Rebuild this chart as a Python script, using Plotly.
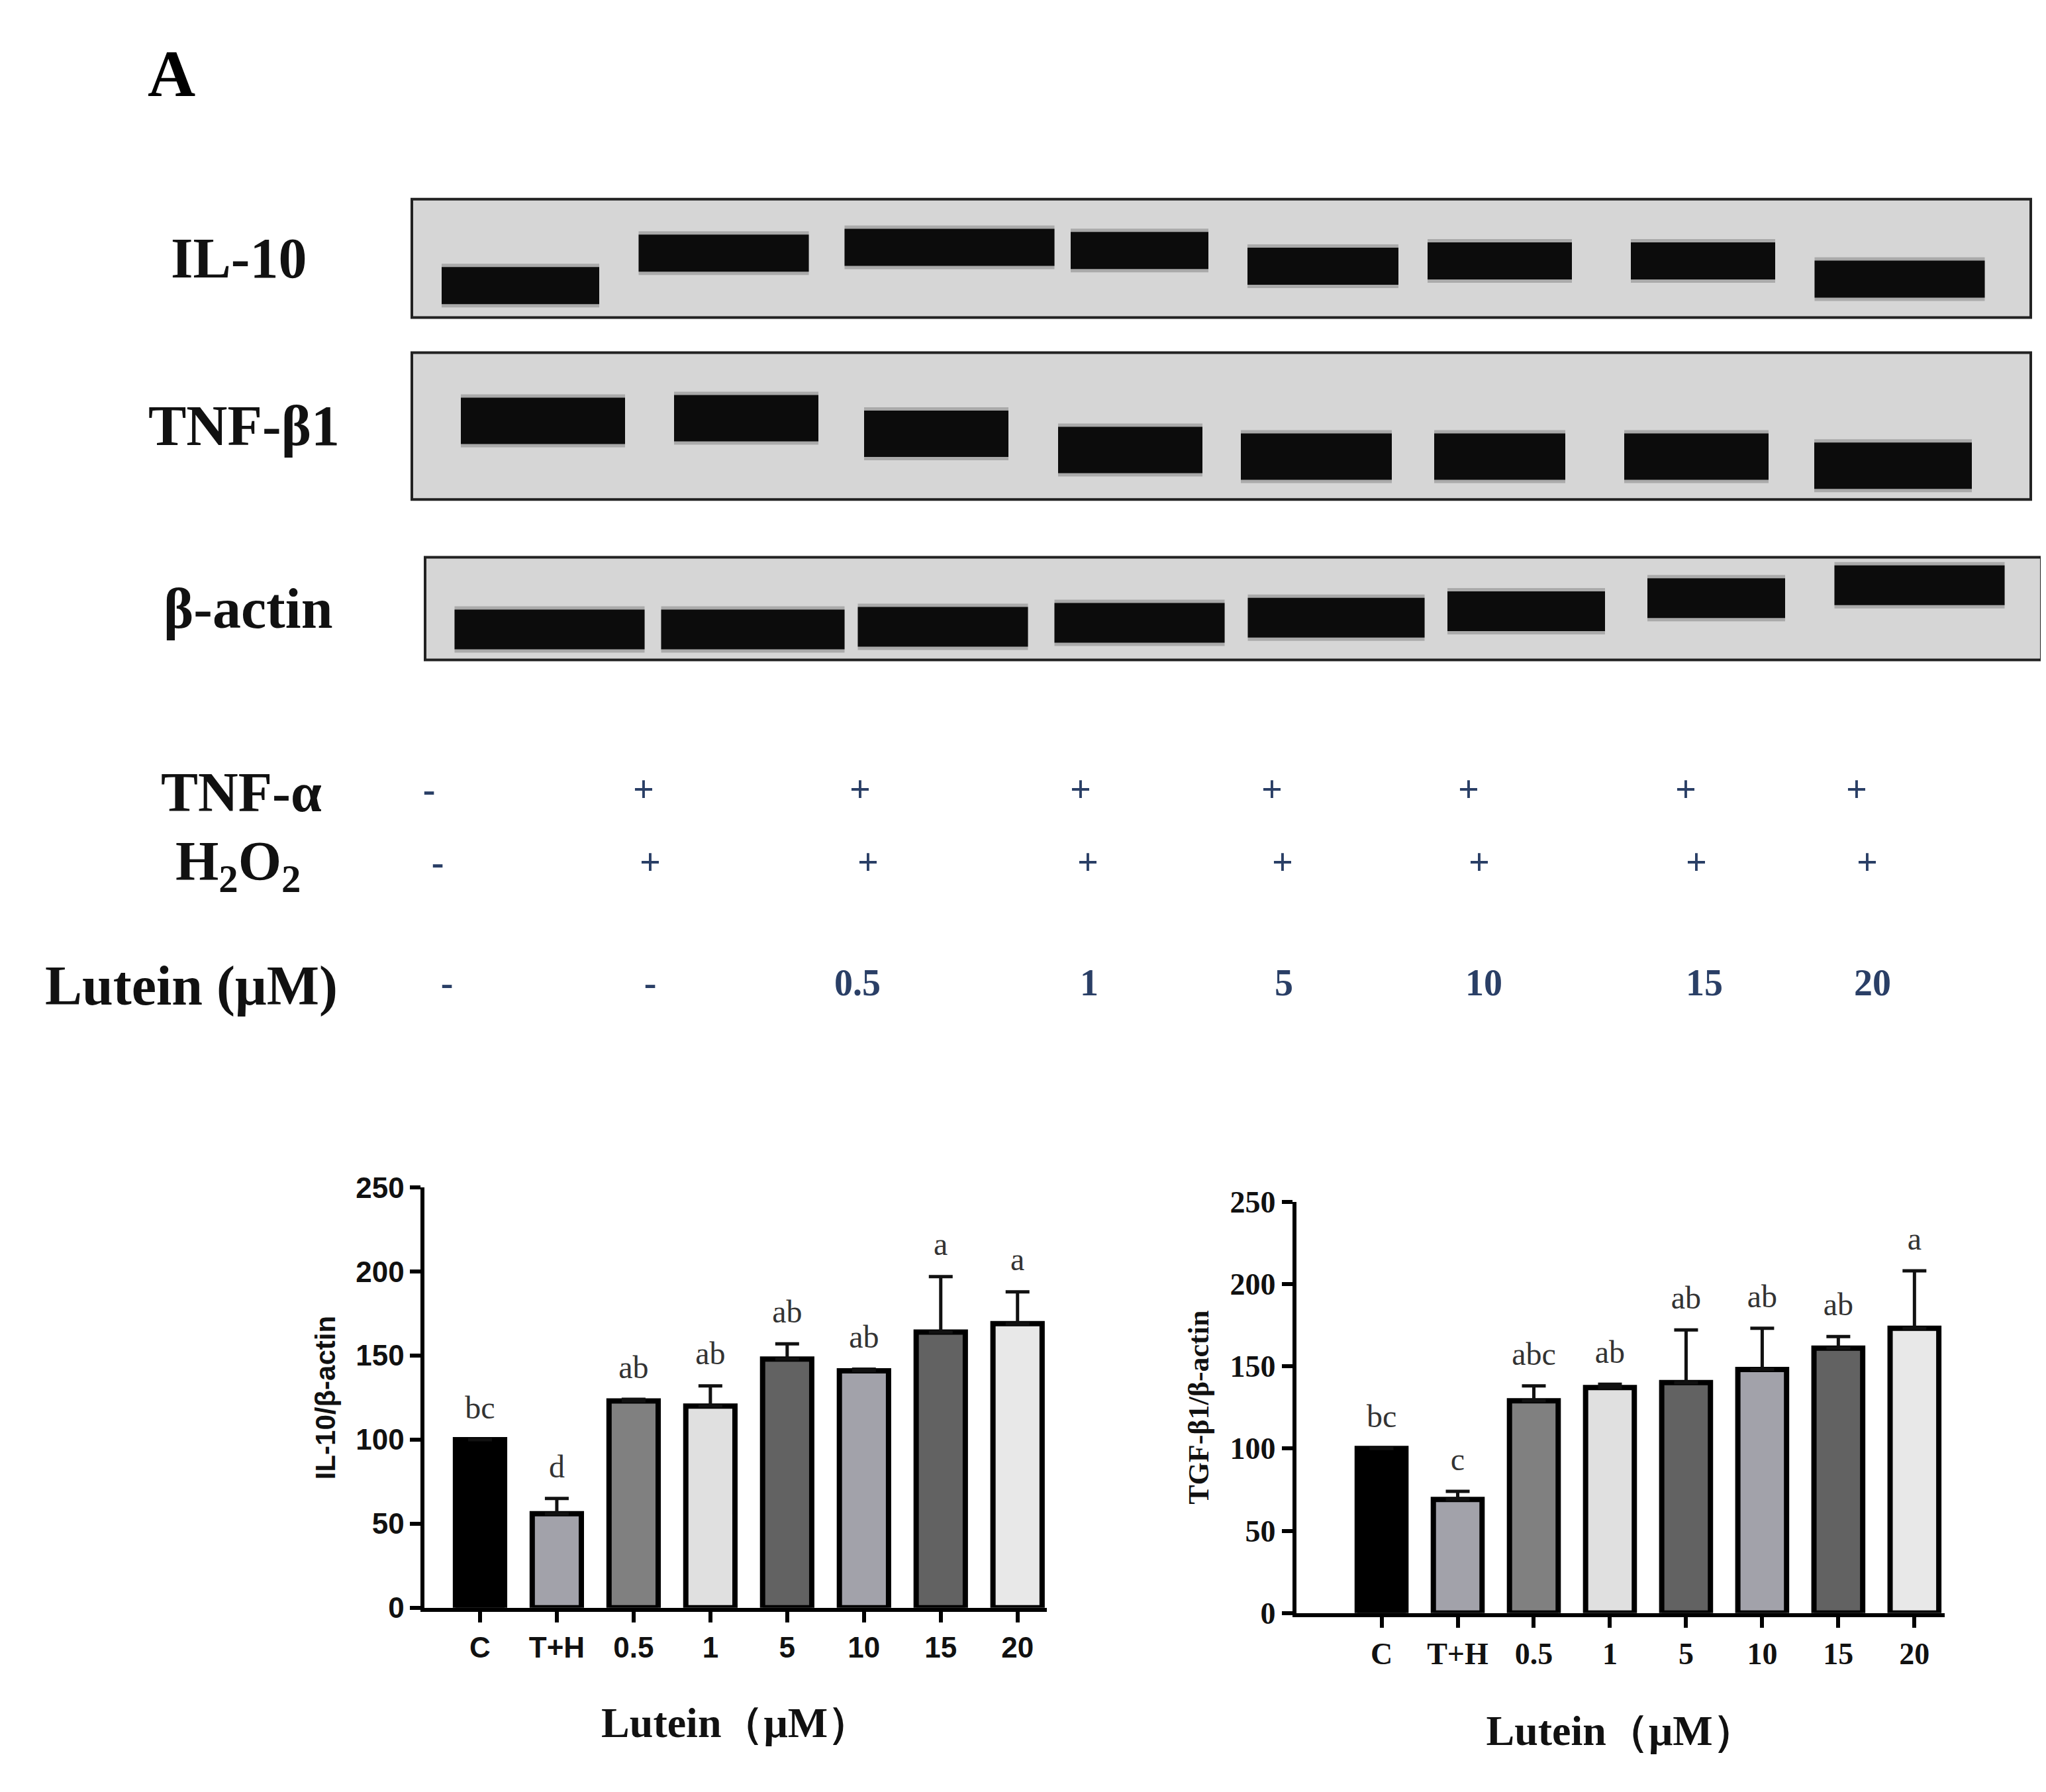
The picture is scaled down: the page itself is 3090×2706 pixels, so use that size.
import plotly.graph_objects as go

W, H = 3090, 2706

# bar chart data
groups = ["C", "T+H", "0.5", "1", "5", "10", "15", "20"]
il10 = [100, 56, 123, 120, 148, 141, 164, 169]
il10_err = [0, 9, 1, 12, 9, 1, 33, 19]
il10_sig = ["bc", "d", "ab", "ab", "ab", "ab", "a", "a"]
tgf = [100, 69, 129, 137, 140, 148, 161, 173]
tgf_err = [0, 5, 9, 2, 32, 25, 7, 35]
tgf_sig = ["bc", "c", "abc", "ab", "ab", "ab", "ab", "a"]
bar_colors = ["#000000", "#a2a2aa", "#808080", "#e0e0e0", "#626262", "#a2a2aa", "#626262", "#e8e8e8"]

# blot bands (image pixel units): centre x, centre y, width
il10_cx = [778, 1085, 1426, 1713, 1990, 2257, 2564, 2861]
il10_cy = [406, 356, 347, 352, 376, 368, 368, 396]
il10_w = [238, 257, 317, 208, 228, 218, 218, 257]
tnf_cx = [812, 1119, 1406, 1699, 1980, 2257, 2554, 2851]
tnf_cy = [614, 610, 634, 659, 669, 669, 669, 683]
tnf_w = [248, 218, 218, 218, 228, 198, 218, 238]
act_cx = [822, 1129, 1416, 1713, 2010, 2297, 2584, 2891]
act_cy = [935, 935, 931, 925, 917, 907, 887, 867]
act_w = [287, 277, 257, 257, 267, 238, 208, 257]
blots = [
    ("IL-10", il10_cx, il10_cy, il10_w, 56, (614, 273, 3059, 455), 352),
    ("TNF-β1", tnf_cx, tnf_cy, tnf_w, 70, (614, 509, 3059, 735), 360),
    ("β-actin", act_cx, act_cy, act_w, 60, (634, 824, 3075, 982), 366),
]

# treatment table
tnf_x = [640, 964, 1291, 1624, 1913, 2210, 2538, 2796]
h2o2_x = [653, 974, 1303, 1635, 1929, 2226, 2554, 2812]
lut_x = [667, 974, 1287, 1637, 1931, 2233, 2566, 2820]
tnf_sign = ["-", "+", "+", "+", "+", "+", "+", "+"]
h2o2_sign = ["-", "+", "+", "+", "+", "+", "+", "+"]
lut_vals = ["-", "-", "0.5", "1", "5", "10", "15", "20"]

fig = go.Figure()

# overlay axis in image pixels for the blot panel
for name, cx, cy, bw, th, box, lx in blots:
    x0, y0, x1, y1 = box
    fig.add_shape(type="rect", xref="x3", yref="y3", x0=x0, y0=y0, x1=x1, y1=y1,
                  fillcolor="#d6d6d6", line=dict(color="#222", width=4), layer="below")
    xs, ys = [], []
    for c, y, w in zip(cx, cy, bw):
        xs += [c - w / 2, c + w / 2, None]
        ys += [y, y, None]
    fig.add_trace(go.Scatter(x=xs, y=ys, mode="lines", xaxis="x3", yaxis="y3",
                             line=dict(color="#777", width=th + 10), opacity=0.45,
                             showlegend=False, hoverinfo="skip"))
    fig.add_trace(go.Scatter(x=xs, y=ys, mode="lines", xaxis="x3", yaxis="y3",
                             line=dict(color="#0c0c0c", width=th),
                             showlegend=False, hoverinfo="skip"))
    fig.add_annotation(x=lx, y=(y0 + y1) / 2, xref="x3", yref="y3", text=f"<b>{name}</b>",
                       showarrow=False, font=dict(family="Liberation Serif", size=86, color="#111"))

sign_font = dict(family="Liberation Serif", size=56, color="#2a3f66")
for lab, xs, ys, vals, lpos in [
    ("<b>TNF-α</b>", tnf_x, 1186, tnf_sign, 356),
    ("<b>H<sub>2</sub>O<sub>2</sub></b>", h2o2_x, 1298, h2o2_sign, 352),
    ("<b>Lutein (μM)</b>", lut_x, 1484, lut_vals, 281),
]:
    fig.add_annotation(x=lpos, y=ys, xref="x3", yref="y3", text=lab, showarrow=False,
                       font=dict(family="Liberation Serif", size=84, color="#111"))
    fig.add_trace(go.Scatter(x=xs, y=[ys] * len(xs), mode="text", text=[f"<b>{v}</b>" for v in vals],
                             textfont=sign_font, xaxis="x3", yaxis="y3",
                             showlegend=False, hoverinfo="skip"))

fig.add_annotation(x=251, y=80, xref="x3", yref="y3", text="<b>A</b>", showarrow=False,
                   font=dict(family="Liberation Serif", size=100, color="#000"))

# bar charts
def add_bars(vals, errs, sig, xa, ya):
    fig.add_trace(go.Bar(x=groups, y=vals, xaxis=xa, yaxis=ya, width=0.64,
                         marker=dict(color=bar_colors, line=dict(color="#000", width=8)),
                         error_y=dict(type="data", array=errs, arrayminus=[0] * len(errs),
                                      color="#111", thickness=5, width=18),
                         showlegend=False))
    fig.add_trace(go.Scatter(x=groups, y=[v + e + 8 for v, e in zip(vals, errs)], mode="text",
                             text=sig, textposition="top center", xaxis=xa, yaxis=ya,
                             textfont=dict(family="Liberation Serif", size=48, color="#333"),
                             showlegend=False, hoverinfo="skip"))

add_bars(il10, il10_err, il10_sig, "x", "y")
add_bars(tgf, tgf_err, tgf_sig, "x2", "y2")

axis_common = dict(showline=True, linecolor="#000", linewidth=6, ticks="outside",
                   ticklen=16, tickwidth=6, tickcolor="#000", showgrid=False, zeroline=False)

fig.update_layout(
    width=W, height=H, margin=dict(l=0, r=0, t=0, b=0),
    paper_bgcolor="white", plot_bgcolor="rgba(0,0,0,0)",
    xaxis=dict(domain=[0.205, 0.509], anchor="y", range=[-0.72, 7.38],
               tickfont=dict(family="Liberation Sans", size=44, weight="bold", color="#111"),
               title=dict(text="<b>Lutein（μM）</b>", standoff=70,
                          font=dict(family="Liberation Serif", size=64, color="#111")),
               **axis_common),
    yaxis=dict(domain=[0.098, 0.337], anchor="x", range=[0, 250], dtick=50,
               tickfont=dict(family="Liberation Sans", size=44, weight="bold", color="#111"),
               title=dict(text="<b>IL-10/β-actin</b>", standoff=20,
                          font=dict(family="Liberation Sans", size=42, color="#111")),
               **axis_common),
    xaxis2=dict(domain=[0.631, 0.948], anchor="y2", range=[-1.12, 7.4],
                tickfont=dict(family="Liberation Serif", size=46, weight="bold", color="#111"),
                title=dict(text="<b>Lutein（μM）</b>", standoff=70,
                           font=dict(family="Liberation Serif", size=64, color="#111")),
                **axis_common),
    yaxis2=dict(domain=[0.095, 0.329], anchor="x2", range=[0, 250], dtick=50,
                tickfont=dict(family="Liberation Serif", size=46, weight="bold", color="#111"),
                title=dict(text="<b>TGF-β1/β-actin</b>", standoff=20,
                           font=dict(family="Liberation Serif", size=44, color="#111")),
                **axis_common),
    xaxis3=dict(domain=[0, 1], range=[0, W], visible=False, fixedrange=True),
    yaxis3=dict(domain=[0, 1], range=[H, 0], visible=False, fixedrange=True, anchor="x3"),
)

fig.write_html("out.html")
